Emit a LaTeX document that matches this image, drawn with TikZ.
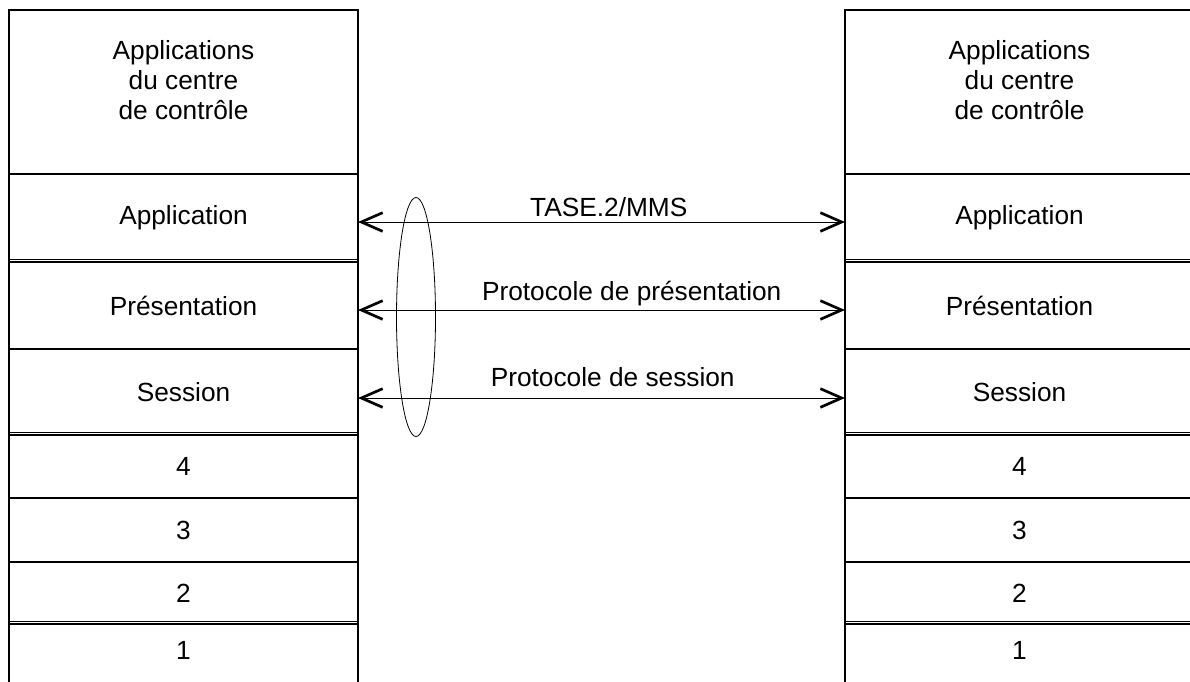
\documentclass[tikz,border=0pt]{standalone}
\usepackage{fontspec}
\setmainfont{Liberation Sans}
\usetikzlibrary{positioning, arrows.meta, shapes.geometric}
\newdimen\px
\px=0.75pt

\begin{document}
\begin{tikzpicture}[
      x=0.75pt,
      y=-0.75pt,
      font=\fontsize{19.7pt}{22.5pt}\selectfont,
      layer/.style={
          rectangle,
          draw,
          line width=0.8pt,
          inner sep=0pt,
          outer sep=0pt,
          minimum width=349\px,
          anchor=north
        },
      txt/.style={
          align=center,
          inner sep=0pt
        },
      dbl/.style={
          line width=0.6pt
        },
      arrow/.style={
          {Straight Barb[length=16pt,width=14pt,line width=2pt]}-{Straight Barb[length=16pt,width=14pt,line width=2pt]},
          line width=0.6pt
        },
      lbl/.style={
          anchor=base,
          inner sep=0pt
        }
    ]

    \path[use as bounding box] (0,0) rectangle (1190,682);
    \clip (0,0) rectangle (1190,682);

    % Left stack
    \node[layer, minimum height=164\px] (gTop) at (183.5,10) {};
    \node[txt] (gTopTxt) at ([yshift=12\px]gTop.center) {Applications\\du centre\\de contrôle};
    \node[layer, minimum height=88\px, below=0pt of gTop] (gApp) {Application};
    \node[layer, minimum height=87\px, below=0pt of gApp] (gPres) {Présentation};
    \node[layer, minimum height=86\px, below=0pt of gPres] (gSes) {Session};
    \node[layer, minimum height=63\px, below=0pt of gSes] (g4) {4};
    \node[layer, minimum height=64\px, below=0pt of g4] (g3) {3};
    \node[layer, minimum height=62\px, below=0pt of g3] (g2) {2};
    \node[layer, minimum height=80\px, below=0pt of g2] (g1) {};
    \node[txt] (g1Txt) at ([yshift=-26\px]g1.north) {1};

    % Right stack
    \node[layer, minimum height=164\px] (dTop) at (1019.5,10) {};
    \node[txt] (dTopTxt) at ([yshift=12\px]dTop.center) {Applications\\du centre\\de contrôle};
    \node[layer, minimum height=88\px, below=0pt of dTop] (dApp) {Application};
    \node[layer, minimum height=87\px, below=0pt of dApp] (dPres) {Présentation};
    \node[layer, minimum height=86\px, below=0pt of dPres] (dSes) {Session};
    \node[layer, minimum height=63\px, below=0pt of dSes] (d4) {4};
    \node[layer, minimum height=64\px, below=0pt of d4] (d3) {3};
    \node[layer, minimum height=62\px, below=0pt of d3] (d2) {2};
    \node[layer, minimum height=80\px, below=0pt of d2] (d1) {};
    \node[txt] (d1Txt) at ([yshift=-26\px]d1.north) {1};

    % Double separators
    \draw[dbl] ([yshift=3\px]gApp.south west) -- ([yshift=3\px]gApp.south east);
    \draw[dbl] ([yshift=3\px]gSes.south west) -- ([yshift=3\px]gSes.south east);
    \draw[dbl] ([yshift=3\px]g2.south west) -- ([yshift=3\px]g2.south east);
    \draw[dbl] ([yshift=3\px]dApp.south west) -- ([yshift=3\px]dApp.south east);
    \draw[dbl] ([yshift=3\px]dSes.south west) -- ([yshift=3\px]dSes.south east);
    \draw[dbl] ([yshift=3\px]d2.south west) -- ([yshift=3\px]d2.south east);

    % Arrows
    \draw[arrow] ([yshift=-4\px]gApp.east) -- node[lbl, pos=0.515, yshift=4.5pt] {TASE.2/MMS} ([yshift=-4\px]dApp.west);
    \draw[arrow] ([yshift=-4.5\px]gPres.east) -- node[lbl, pos=0.562, yshift=7.5pt] {Protocole de présentation} ([yshift=-4.5\px]dPres.west);
    \draw[arrow] ([yshift=-6\px]gSes.east) -- node[lbl, pos=0.523, yshift=8.3pt] {Protocole de session} ([yshift=-6\px]dSes.west);

    % Group
    \node[ellipse, draw, line width=0.6pt, inner sep=0pt, minimum width=39\px, minimum height=239\px] (grp) at (416,317) {};

  \end{tikzpicture}
\end{document}
